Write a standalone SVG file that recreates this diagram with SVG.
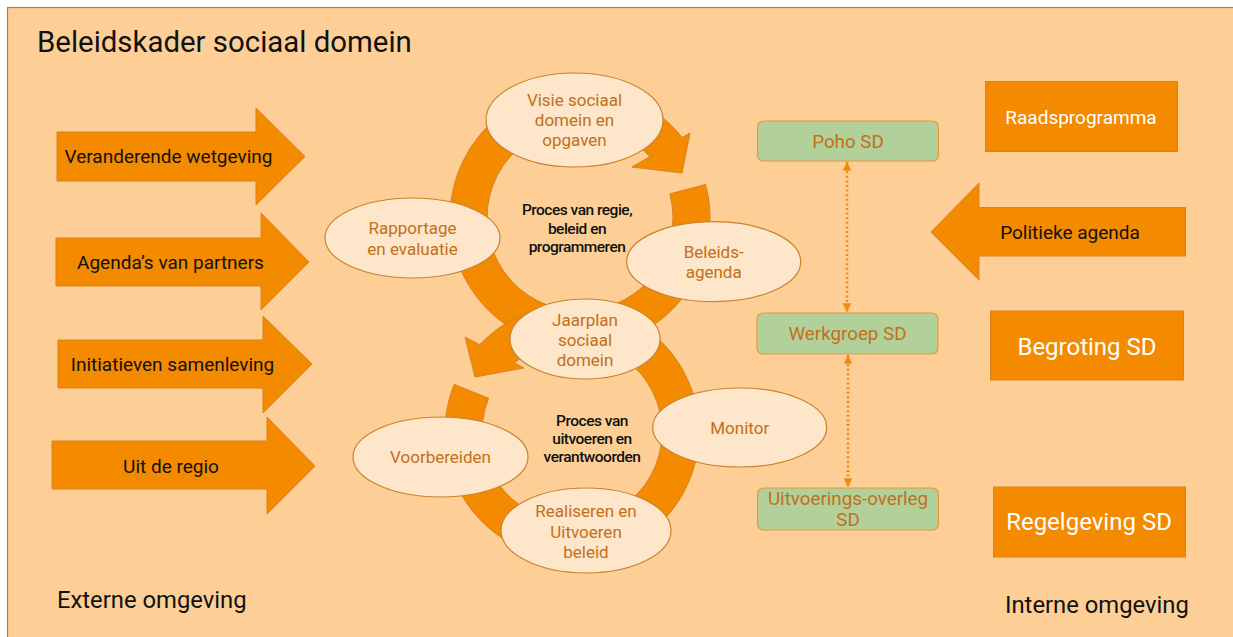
<svg xmlns="http://www.w3.org/2000/svg" width="1233" height="637" viewBox="0 0 1233 637">
<defs>
<style>
.bg{fill:#fdcf96;stroke:#c47a2c;stroke-width:1.2}
.band{fill:#f38a00;stroke:#d9821e;stroke-width:1}
.arrow{fill:#f38a00;stroke:#d9821e;stroke-width:1}
.ell{fill:#fde6c9;stroke:#c98430;stroke-width:1.2}
.green{fill:#b2d09a;stroke:#e49a3c;stroke-width:1.2}
.obox{fill:#f38a00;stroke:#d9821e;stroke-width:1}
text{font-family:Roboto,"Liberation Sans",sans-serif}
.et{font-size:17px;fill:#c2701a;text-anchor:middle}
.gt{font-size:18.8px;fill:#c2701a;text-anchor:middle}
.at{font-size:19px;fill:#111;text-anchor:middle}
.wt{fill:#fff;text-anchor:middle}
.pt{font-size:15.5px;font-weight:500;fill:#111;text-anchor:middle;letter-spacing:-0.5px}
.dot{fill:none;stroke:#f08a10;stroke-width:2.6;stroke-dasharray:2 2.6}
</style>
<marker id="ah" viewBox="0 0 10 10" refX="10" refY="5" markerWidth="3.4" markerHeight="3.4" orient="auto-start-reverse" markerUnits="strokeWidth">
<path d="M0,0 L10,5 L0,10 Z" fill="#f08a10"/>
</marker>
</defs>
<rect class="bg" x="7.5" y="7.5" width="1240" height="640"/>
<text x="37" y="52" font-size="29.4" fill="#111">Beleidskader sociaal domein</text>
<text x="57" y="608" font-size="23.8" fill="#111">Externe omgeving</text>
<text x="1005" y="613" font-size="23.8" fill="#111">Interne omgeving</text>

<g id="external-arrows">
<g id="arr-wetgeving"><path class="arrow" d="M57,132 L256,132 L256,108 L305,156.5 L256,205 L256,181 L57,181 Z"/><text class="at" x="168.5" y="163">Veranderende wetgeving</text></g>
<g id="arr-partners"><path class="arrow" d="M56,238 L261,238 L261,213 L309,262 L261,310 L261,286 L56,286 Z"/><text class="at" x="170.5" y="268.5">Agenda’s van partners</text></g>
<g id="arr-initiatieven"><path class="arrow" d="M58,340 L263,340 L263,316 L312,364 L263,413 L263,388 L58,388 Z"/><text class="at" x="172.5" y="370.5">Initiatieven samenleving</text></g>
<g id="arr-regio"><path class="arrow" d="M52,441 L267,441 L267,417 L315,466 L267,514 L267,489 L52,489 Z"/><text class="at" x="171" y="472.5">Uit de regio</text></g>
</g>

<g id="cycles">
<path id="cycle-upper" class="band" d="M669.8,193.9 L705.6,184.4 A130,130 0 1 1 682.2,137.6 L690,133 L682,173 L632,167 L649.8,156.6 A93,93 0 1 0 669.8,193.9 Z"/>
<path id="cycle-lower" class="band" d="M488.6,398.3 L454.2,384.4 A127,127 0 1 0 479.7,344.7 L465,337 L475,377 L524,368 L514.3,362.9 A90,90 0 1 1 488.6,398.3 Z"/>
</g>

<text class="pt" x="577" y="215">Proces van regie,</text>
<text class="pt" x="577" y="234">beleid en</text>
<text class="pt" x="577" y="252">programmeren</text>
<text class="pt" x="592" y="426">Proces van</text>
<text class="pt" x="592" y="444">uitvoeren en</text>
<text class="pt" x="592" y="462">verantwoorden</text>

<g id="n-visie"><ellipse class="ell" cx="574.5" cy="120" rx="88.5" ry="47"/><text class="et" x="574.5" y="106">Visie sociaal</text><text class="et" x="574.5" y="126">domein en</text><text class="et" x="574.5" y="146">opgaven</text></g>
<g id="n-rapportage"><ellipse class="ell" cx="412.5" cy="238" rx="87.5" ry="40"/><text class="et" x="412.5" y="234">Rapportage</text><text class="et" x="412.5" y="255">en evaluatie</text></g>
<g id="n-beleidsagenda"><ellipse class="ell" cx="713.7" cy="261.7" rx="87" ry="40"/><text class="et" x="713.7" y="258">Beleids-</text><text class="et" x="713.7" y="278">agenda</text></g>
<g id="n-jaarplan"><ellipse class="ell" cx="585" cy="339" rx="75" ry="40"/><text class="et" x="585" y="326">Jaarplan</text><text class="et" x="585" y="346">sociaal</text><text class="et" x="585" y="366">domein</text></g>
<g id="n-monitor"><ellipse class="ell" cx="739.7" cy="427.5" rx="87" ry="39.5"/><text class="et" x="739.7" y="434">Monitor</text></g>
<g id="n-voorbereiden"><ellipse class="ell" cx="440.5" cy="457" rx="87.5" ry="40"/><text class="et" x="440.5" y="463">Voorbereiden</text></g>
<g id="n-realiseren"><ellipse class="ell" cx="586" cy="530.5" rx="85" ry="42.5"/><text class="et" x="586" y="517">Realiseren en</text><text class="et" x="586" y="538">Uitvoeren</text><text class="et" x="586" y="558">beleid</text></g>

<g id="n-poho"><rect class="green" x="757.5" y="121" width="181" height="40" rx="6"/><text class="gt" x="848" y="147.5">Poho SD</text></g>
<g id="n-werkgroep"><rect class="green" x="757" y="313" width="181" height="41" rx="6"/><text class="gt" x="847.5" y="340">Werkgroep SD</text></g>
<g id="n-uitvoering"><rect class="green" x="757.5" y="488" width="181" height="42" rx="6"/><text class="gt" x="848" y="505">Uitvoerings-overleg</text><text class="gt" x="848" y="526">SD</text></g>

<g id="connectors">
<line class="dot" x1="847" y1="162" x2="847" y2="312" marker-start="url(#ah)" marker-end="url(#ah)"/>
<line class="dot" x1="848" y1="355" x2="848" y2="487" marker-start="url(#ah)" marker-end="url(#ah)"/>
</g>

<g id="n-raadsprogramma"><rect class="obox" x="985.5" y="81.5" width="192" height="70"/><text class="wt" x="1081" y="124" font-size="19">Raadsprogramma</text></g>
<g id="n-politieke"><path class="arrow" d="M931,232 L979,183 L979,207.5 L1185.5,207.5 L1185.5,256 L979,256 L979,280 Z"/><text class="at" x="1070" y="239" font-size="20">Politieke agenda</text></g>
<g id="n-begroting"><rect class="obox" x="990.5" y="311" width="193" height="69"/><text class="wt" x="1087" y="355" font-size="24">Begroting SD</text></g>
<g id="n-regelgeving"><rect class="obox" x="993.5" y="487" width="192" height="70"/><text class="wt" x="1089" y="530" font-size="24">Regelgeving SD</text></g>
</svg>
